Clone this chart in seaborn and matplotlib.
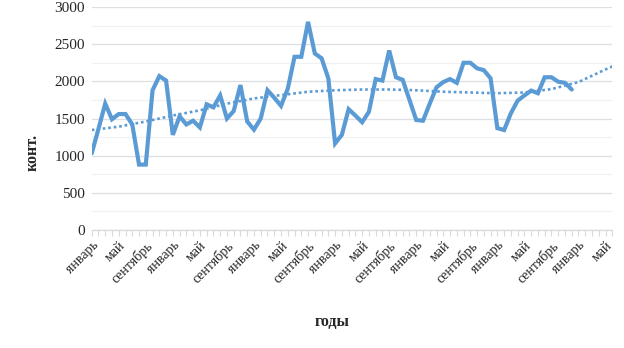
import numpy as np
import pandas as pd
import matplotlib
matplotlib.use("Agg")
import matplotlib.pyplot as plt
import seaborn as sns
from matplotlib.ticker import FixedLocator, MultipleLocator

# Monthly container counts, January of the first year to December of the sixth
containers = [1030, 1360, 1700, 1490, 1560, 1560, 1420, 880, 880, 1880,
              2070, 2010, 1280, 1530, 1420, 1470, 1380, 1690, 1650, 1810,
              1500, 1600, 1950, 1460, 1350, 1500, 1880, 1780, 1670, 1900,
              2330, 2330, 2800, 2375, 2310, 2040, 1165, 1280, 1625, 1540,
              1450, 1590, 2030, 2010, 2415, 2055, 2020, 1750, 1480, 1470,
              1700, 1920, 1990, 2030, 1980, 2250, 2250, 2175, 2150, 2040,
              1370, 1345, 1570, 1740, 1810, 1875, 1840, 2055, 2055, 1995,
              1980, 1890]
# Polynomial trend line, sampled every four months and at the last forecast month
trend_months = [0, 4, 8, 12, 16, 20, 24, 28, 32, 36, 40, 44, 48, 52, 56, 60,
                64, 68, 72, 76, 77]
trend_values = [1345, 1390, 1460, 1540, 1610, 1700, 1770, 1815, 1860, 1880,
                1890, 1890, 1880, 1860, 1850, 1840, 1850, 1895, 1990, 2160, 2200]
month_names = ["январь", "май", "сентябрь"]
forecast_months = 6
y_ticks = [0, 500, 1000, 1500, 2000, 2500, 3000]

n = len(containers)
total = n + forecast_months
df = pd.DataFrame({"month": np.arange(n), "value": containers})
trend_df = pd.DataFrame({"month": trend_months, "value": trend_values})

sns.set_theme(style="white")
plt.rcParams["font.family"] = ["Liberation Serif", "DejaVu Serif"]

fig = plt.figure(figsize=(6.24, 3.48), dpi=100)
ax = fig.add_axes([91.7 / 624, 1 - 230 / 348, (612.3 - 91.7) / 624, 223 / 348])

blue = "#5b9bd5"
sns.lineplot(data=df, x="month", y="value", ax=ax, color=blue, lw=3.0,
             solid_joinstyle="miter", zorder=3)
sns.lineplot(data=trend_df, x="month", y="value", ax=ax, color=blue, lw=1.9,
             linestyle=(0, (1, 1.1)), zorder=2)

ax.set_xlim(0, total - 1)
ax.set_ylim(0, 3000)
ax.set_yticks(y_ticks)
ax.yaxis.set_minor_locator(MultipleLocator(250))
ax.grid(which="major", axis="y", color="#dcdfe4", lw=0.9, zorder=0)
ax.grid(which="minor", axis="y", color="#f0f1f3", lw=0.9, zorder=0)
ax.grid(axis="x", visible=False)

label_pos = np.arange(0, total, 4)
ax.set_xticks(label_pos)
ax.set_xticklabels([month_names[i % 3] for i in range(len(label_pos))],
                   rotation=45, ha="right", rotation_mode="anchor", fontsize=10)
ax.xaxis.set_minor_locator(FixedLocator(np.arange(total)))
ax.tick_params(axis="x", which="both", direction="out", length=4.5, width=0.8,
               color="#d9d9d9", bottom=True, pad=2)
ax.tick_params(axis="y", which="both", length=0, labelsize=11, pad=5)

for side in ["left", "top", "right"]:
    ax.spines[side].set_visible(False)
ax.spines["bottom"].set_color("#d9d9d9")
ax.spines["bottom"].set_linewidth(0.9)

ax.set_ylabel("конт.", fontsize=11.5, fontweight="bold")
ax.yaxis.set_label_coords(-0.099, 0.35)
ax.set_xlabel("годы", fontsize=11.5, fontweight="bold")
ax.xaxis.set_label_coords(0.4616, -0.375)

fig.savefig("out.png", dpi=100, facecolor="white")
